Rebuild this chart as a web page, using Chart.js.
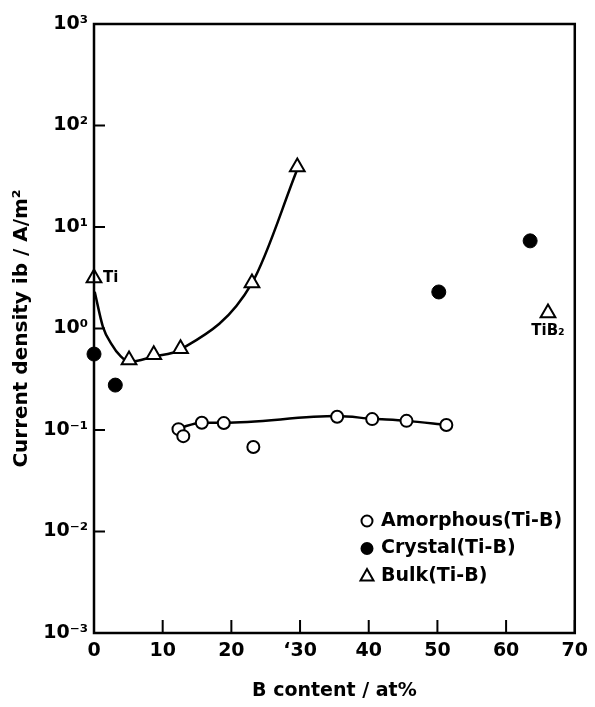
<!DOCTYPE html>
<html>
<head>
<meta charset="utf-8">
<script src="https://cdn.jsdelivr.net/npm/chart.js@4"></script>
<style>
  html, body { margin: 0; padding: 0; background: #fff; }
  canvas { display: block; }
</style>
</head>
<body>
<canvas id="myChart" width="595" height="707"></canvas>
<script>
// values
let xTicks = [0, 10, 20, 30, 40, 50, 60, 70];
let xTickLabels = ["0", "10", "20", "\u201830", "40", "50", "60", "70"];
let yTicks = [1e-3, 1e-2, 1e-1, 1e0, 1e1, 1e2, 1e3];
let yTickLabels = ["10\u207b\u00b3", "10\u207b\u00b2", "10\u207b\u00b9", "10\u2070", "10\u00b9", "10\u00b2", "10\u00b3"];

let amorphousX = [12.3, 13.0, 15.7, 18.9, 23.2, 35.4, 40.5, 45.5, 51.3];
let amorphousY = [0.102, 0.087, 0.118, 0.117, 0.068, 0.135, 0.128, 0.123, 0.112];

let crystalX = [0, 3.1, 50.2, 63.5];
let crystalY = [0.56, 0.277, 2.29, 7.3];

let bulkX = [0, 5.1, 8.7, 12.6, 23.0, 29.6, 66.1];
let bulkY = [3.15, 0.49, 0.55, 0.63, 2.8, 39, 1.42];

// hand-drawn guide curves
let bulkCurveX = [0.1, 1.3, 2.5, 3.9, 5.1, 8.7, 12.6, 23.0, 29.6];
let bulkCurveY = [2.3, 1.04, 0.71, 0.53, 0.47, 0.53, 0.62, 2.8, 37];
let amorphousCurveX = [12.3, 15.7, 18.9, 35.4, 40.5, 45.5, 51.3];
let amorphousCurveY = [0.104, 0.118, 0.118, 0.137, 0.129, 0.123, 0.112];

let notes = [["Ti", 0, 3.15], ["TiB\u2082", 66.1, 1.42]];

function pts(xs, ys) {
    return xs.map(function (x, i) {
        return { x: x, y: ys[i] };
    });
}

Chart.defaults.font.family = "'DejaVu Sans', sans-serif";
Chart.defaults.font.weight = "bold";
Chart.defaults.color = "#000";

let framePlugin = {
    id: "frame",
    afterDatasetsDraw: function (chart) {
        let c = chart.ctx;
        let a = chart.chartArea;
        let xs = chart.scales.x;
        let ys = chart.scales.y;
        c.save();
        c.strokeStyle = "#000";
        c.lineWidth = 2.5;
        c.strokeRect(a.left, a.top, a.right - a.left, a.bottom - a.top);
        c.lineWidth = 2;
        c.beginPath();
        yTicks.forEach(function (v) {
            let p = ys.getPixelForValue(v);
            c.moveTo(a.left, p);
            c.lineTo(a.left + 11, p);
        });
        xTicks.forEach(function (v) {
            let p = xs.getPixelForValue(v);
            c.moveTo(p, a.bottom);
            c.lineTo(p, a.bottom - 13);
        });
        c.stroke();

        // point notes
        c.fillStyle = "#000";
        c.font = "bold 15px 'DejaVu Sans'";
        c.textBaseline = "middle";
        c.textAlign = "left";
        c.fillText(notes[0][0], xs.getPixelForValue(notes[0][1]) + 9, ys.getPixelForValue(notes[0][2]));
        c.textAlign = "center";
        c.fillText(notes[1][0], xs.getPixelForValue(notes[1][1]), ys.getPixelForValue(notes[1][2]) + 18);

        // legend
        let lx = 367, ly = 521, gap = 27.5;
        c.lineWidth = 2;
        c.font = "bold 19px 'DejaVu Sans'";
        c.textAlign = "left";
        chart.data.datasets.slice(0, 3).forEach(function (ds, i) {
            let y = ly + i * gap;
            c.beginPath();
            if (i < 2) {
                c.arc(lx, y, 5.5, 0, Math.PI * 2);
            } else {
                c.moveTo(lx, y - 7);
                c.lineTo(lx + 6.5, y + 4.5);
                c.lineTo(lx - 6.5, y + 4.5);
                c.closePath();
            }
            c.fillStyle = i === 1 ? "#000" : "#fff";
            c.fill();
            c.stroke();
            c.fillStyle = "#000";
            c.fillText(ds.label, lx + 14, y);
        });
        c.restore();
    },
};

let ctx = document.getElementById("myChart").getContext("2d");
let chart = new Chart(ctx, {
    type: "scatter",
    data: {
        datasets: [
            {
                label: "Amorphous(Ti-B)",
                data: pts(amorphousX, amorphousY),
                pointStyle: "circle",
                pointRadius: 6,
                borderWidth: 2,
                borderColor: "#000",
                backgroundColor: "#fff",
                clip: false,
            },
            {
                label: "Crystal(Ti-B)",
                data: pts(crystalX, crystalY),
                pointStyle: "circle",
                pointRadius: 7,
                borderWidth: 1,
                borderColor: "#000",
                backgroundColor: "#000",
                clip: false,
            },
            {
                label: "Bulk(Ti-B)",
                data: pts(bulkX, bulkY),
                pointStyle: "triangle",
                pointRadius: 8.5,
                borderWidth: 2,
                borderColor: "#000",
                backgroundColor: "#fff",
                clip: false,
            },
            {
                label: "bulk curve",
                data: pts(bulkCurveX, bulkCurveY),
                showLine: true,
                pointRadius: 0,
                borderWidth: 2.5,
                borderColor: "#000",
                cubicInterpolationMode: "monotone",
                clip: false,
            },
            {
                label: "amorphous curve",
                data: pts(amorphousCurveX, amorphousCurveY),
                showLine: true,
                pointRadius: 0,
                borderWidth: 2.5,
                borderColor: "#000",
                cubicInterpolationMode: "monotone",
                clip: false,
            },
        ],
    },
    options: {
        responsive: false,
        animation: false,
        events: [],
        layout: {
            padding: { left: 0, right: 18, top: 24, bottom: 0 },
        },
        plugins: {
            legend: { display: false },
            tooltip: { enabled: false },
        },
        scales: {
            x: {
                type: "linear",
                min: 0,
                max: 70,
                grid: { display: false, drawTicks: false },
                border: { display: false },
                afterBuildTicks: function (scale) {
                    scale.ticks = xTicks.map(function (v) {
                        return { value: v };
                    });
                },
                afterFit: function (scale) {
                    scale.height = 74;
                },
                ticks: {
                    padding: 7,
                    maxRotation: 0,
                    font: { size: 19 },
                    callback: function (v) {
                        return xTickLabels[xTicks.indexOf(v)];
                    },
                },
                title: {
                    display: true,
                    text: "B content / at%",
                    font: { size: 19 },
                    padding: { top: 0, bottom: 5 },
                },
            },
            y: {
                type: "logarithmic",
                min: 1e-3,
                max: 1e3,
                grid: { display: false, drawTicks: false },
                border: { display: false },
                afterBuildTicks: function (scale) {
                    scale.ticks = yTicks.map(function (v) {
                        return { value: v };
                    });
                },
                afterFit: function (scale) {
                    scale.width = 94;
                },
                ticks: {
                    padding: 6,
                    font: { size: 19 },
                    callback: function (v) {
                        return yTickLabels[yTicks.indexOf(v)];
                    },
                },
                title: {
                    display: true,
                    text: "Current density ib / A/m\u00b2",
                    font: { size: 20 },
                    padding: { top: 10, bottom: 0 },
                },
            },
        },
    },
    plugins: [framePlugin],
});
</script>
</body>
</html>
